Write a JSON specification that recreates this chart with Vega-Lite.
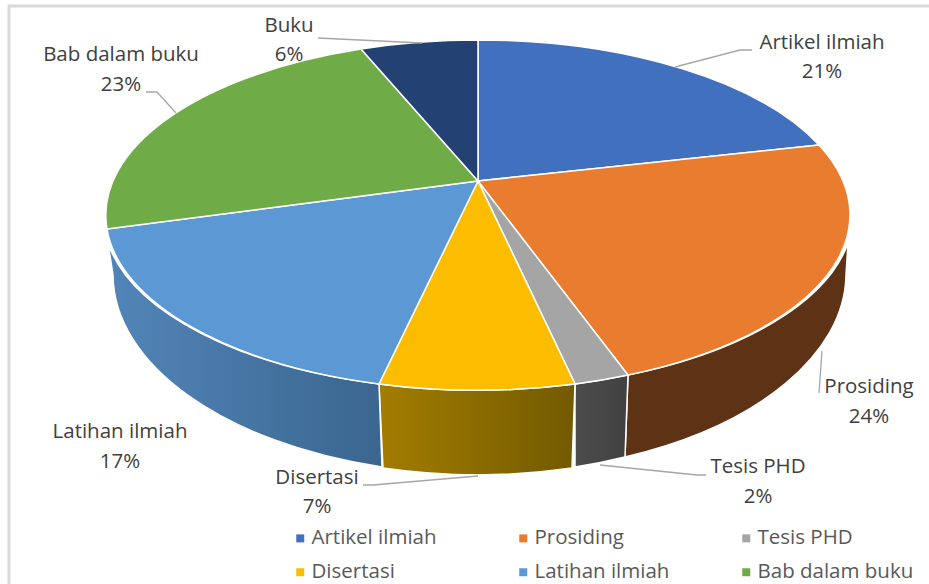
{
"$schema":"https://vega.github.io/schema/vega-lite/v6.json",
"width":929,"height":584,"padding":0,"autosize":{"type":"none"},"background":"white",
"config":{"view":{"stroke":null},"axis":{"disable":true},"font":"Open Sans"},
"data":{"values":[
{"kategori":"Artikel ilmiah","urutan":0,"persen":0.21},
{"kategori":"Prosiding","urutan":1,"persen":0.24},
{"kategori":"Tesis PHD","urutan":2,"persen":0.02},
{"kategori":"Disertasi","urutan":3,"persen":0.07},
{"kategori":"Latihan ilmiah","urutan":4,"persen":0.17},
{"kategori":"Bab dalam buku","urutan":5,"persen":0.23},
{"kategori":"Buku","urutan":6,"persen":0.06}
]},
"resolve":{"scale":{"x":"independent","y":"independent","shape":"independent","color":"independent"}},
"layer":[
{"transform":[{"filter":"datum.urutan==0"}],
 "mark":{"type":"point","shape":"M-469 403V-175H451","size":4,"filled":false,"stroke":"#d9d9d9","strokeWidth":3,"opacity":1},
 "encoding":{"x":{"datum":0,"type":"quantitative","scale":{"domain":[-478,451],"nice":false,"zero":false}},"y":{"datum":0,"type":"quantitative","scale":{"domain":[-181,403],"reverse":true,"nice":false,"zero":false}}}},
{"transform":[{"filter":"datum.kategori=='Prosiding'"}],
 "mark":{"type":"point","shape":"M370 62A372 175 0 0 1 150 194L147 276A366.5 200 0 0 0 368 94Z","size":4,"filled":true,"fill":"#5e3214","stroke":"white","strokeWidth":1.5,"opacity":1},
 "encoding":{"x":{"datum":0,"type":"quantitative","scale":{"domain":[-478,451],"nice":false,"zero":false}},"y":{"datum":0,"type":"quantitative","scale":{"domain":[-181,403],"reverse":true,"nice":false,"zero":false}}}},
{"transform":[{"filter":"datum.kategori=='Tesis PHD'"}],
 "mark":{"type":"point","shape":"M150 194A372 175 0 0 1 97 203L97 286A366.5 200 0 0 0 147 276Z","size":4,"filled":true,"fill":{"gradient":"linear","x1":0,"y1":0,"x2":1,"y2":0,"stops":[{"offset":0,"color":"#4c4c4c"},{"offset":1,"color":"#414141"}]},"stroke":"white","strokeWidth":1.5,"opacity":1},
 "encoding":{"x":{"datum":0,"type":"quantitative","scale":{"domain":[-478,451],"nice":false,"zero":false}},"y":{"datum":0,"type":"quantitative","scale":{"domain":[-181,403],"reverse":true,"nice":false,"zero":false}}}},
{"transform":[{"filter":"datum.kategori=='Disertasi'"}],
 "mark":{"type":"point","shape":"M97 203A372 175 0 0 1 -99 203L-95 287A366.5 200 0 0 0 94 287Z","size":4,"filled":true,"fill":{"gradient":"linear","x1":0,"y1":0,"x2":1,"y2":0,"stops":[{"offset":0,"color":"#a27d00"},{"offset":1,"color":"#735a00"}]},"stroke":"white","strokeWidth":1.5,"opacity":1},
 "encoding":{"x":{"datum":0,"type":"quantitative","scale":{"domain":[-478,451],"nice":false,"zero":false}},"y":{"datum":0,"type":"quantitative","scale":{"domain":[-181,403],"reverse":true,"nice":false,"zero":false}}}},
{"transform":[{"filter":"datum.kategori=='Latihan ilmiah'"}],
 "mark":{"type":"point","shape":"M-99 203A372 175 0 0 1 -370 62L-365 94A366.5 200 0 0 0 -96 286Z","size":4,"filled":true,"fill":{"gradient":"linear","x1":0,"y1":0,"x2":1,"y2":0,"stops":[{"offset":0,"color":"#5285b8"},{"offset":1,"color":"#3a668f"}]},"stroke":"white","strokeWidth":1.5,"opacity":1},
 "encoding":{"x":{"datum":0,"type":"quantitative","scale":{"domain":[-478,451],"nice":false,"zero":false}},"y":{"datum":0,"type":"quantitative","scale":{"domain":[-181,403],"reverse":true,"nice":false,"zero":false}}}},
{"mark":{"type":"point","size":4,"filled":true,"stroke":"white","strokeWidth":1.5,"opacity":1},
 "encoding":{
  "x":{"datum":0,"type":"quantitative","scale":{"domain":[-478,451],"nice":false,"zero":false}},
  "y":{"datum":0,"type":"quantitative","scale":{"domain":[-181,403],"reverse":true,"nice":false,"zero":false}},
  "shape":{"field":"kategori","type":"nominal","legend":null,"scale":{"domain":["Artikel ilmiah","Prosiding","Tesis PHD","Disertasi","Latihan ilmiah","Bab dalam buku","Buku"],"range":[
   "M0 0L0 -141A372 175 0 0 1 341 -36Z",
   "M0 0L341 -36A372 175 0 0 1 150 194Z",
   "M0 0L150 194A372 175 0 0 1 97 203Z",
   "M0 0L97 203A372 175 0 0 1 -99 203Z",
   "M0 0L-99 203A372 175 0 0 1 -371 48Z",
   "M0 0L-371 48A372 175 0 0 1 -117 -132Z",
   "M0 0L-117 -132A372 175 0 0 1 0 -141Z"]}},
  "color":{"field":"kategori","type":"nominal","legend":null,"scale":{"domain":["Artikel ilmiah","Prosiding","Tesis PHD","Disertasi","Latihan ilmiah","Bab dalam buku","Buku"],"range":["#4170bf","#ea7c30","#a5a5a5","#fcbd00","#5b98d4","#6fab46","#234173"]}}
 }},
{"mark":{"type":"square","size":0,"opacity":1},
 "encoding":{
  "x":{"datum":0,"type":"quantitative","scale":{"domain":[-478,451],"nice":false,"zero":false}},
  "y":{"datum":0,"type":"quantitative","scale":{"domain":[-181,403],"reverse":true,"nice":false,"zero":false}},
  "color":{"field":"kategori","type":"nominal","scale":{"domain":["Artikel ilmiah","Prosiding","Tesis PHD","Disertasi","Latihan ilmiah","Bab dalam buku","Buku"],"range":["#4170bf","#ea7c30","#a5a5a5","#fcbd00","#5b98d4","#6fab46","#234173"]},
   "legend":{"orient":"none","direction":"horizontal","legendX":290,"legendY":528,"title":null,"columns":3,"gridAlign":"all","columnPadding":45,"rowPadding":13,"values":["Artikel ilmiah","Prosiding","Tesis PHD","Disertasi","Latihan ilmiah","Bab dalam buku"],"symbolType":"square","symbolSize":64,"symbolStrokeWidth":0,"symbolOpacity":1,"labelFontSize":20.5,"labelColor":"#595959","labelFont":"Open Sans","labelOffset":1,"labelLimit":200}}
 }},
{"transform":[{"filter":"datum.kategori!='Latihan ilmiah'"}],
 "mark":{"type":"point","size":4,"filled":false,"stroke":"#a6a6a6","strokeWidth":1.3,"opacity":1},
 "encoding":{
  "x":{"datum":0,"type":"quantitative","scale":{"domain":[-478,451],"nice":false,"zero":false}},
  "y":{"datum":0,"type":"quantitative","scale":{"domain":[-181,403],"reverse":true,"nice":false,"zero":false}},
  "shape":{"field":"kategori","type":"nominal","legend":null,"scale":{"domain":["Artikel ilmiah","Prosiding","Tesis PHD","Disertasi","Bab dalam buku","Buku"],"range":[
   "M197 -114L262 -131L274 -131",
   "M344 170L341 212",
   "M122 284L219 294L228 294",
   "M0 295L-105 304L-115 304",
   "M-302 -68L-321 -89L-332 -89",
   "M-160 -143L-56 -138"]}}
 }},
{"mark":{"type":"text","fontSize":20.5,"font":"Open Sans","color":"#404040","align":"center","baseline":"middle"},
 "encoding":{
  "x":{"field":"urutan","type":"quantitative","scale":{"domain":[0,1,2,3,4,5,6],"range":[822,869,758,317,120,121,289],"nice":false,"zero":false}},
  "y":{"field":"urutan","type":"quantitative","scale":{"domain":[0,1,2,3,4,5,6],"range":[43,387,467,478,432,55,26],"nice":false,"zero":false}},
  "text":{"field":"kategori","type":"nominal"}
 }},
{"mark":{"type":"text","fontSize":20.5,"font":"Open Sans","color":"#404040","align":"center","baseline":"middle"},
 "encoding":{
  "x":{"field":"urutan","type":"quantitative","scale":{"domain":[0,1,2,3,4,5,6],"range":[822,869,758,317,120,121,289],"nice":false,"zero":false}},
  "y":{"field":"urutan","type":"quantitative","scale":{"domain":[0,1,2,3,4,5,6],"range":[72,417,497,507,462,85,55],"nice":false,"zero":false}},
  "text":{"field":"persen","type":"quantitative","format":".0%"}
 }}
]}
